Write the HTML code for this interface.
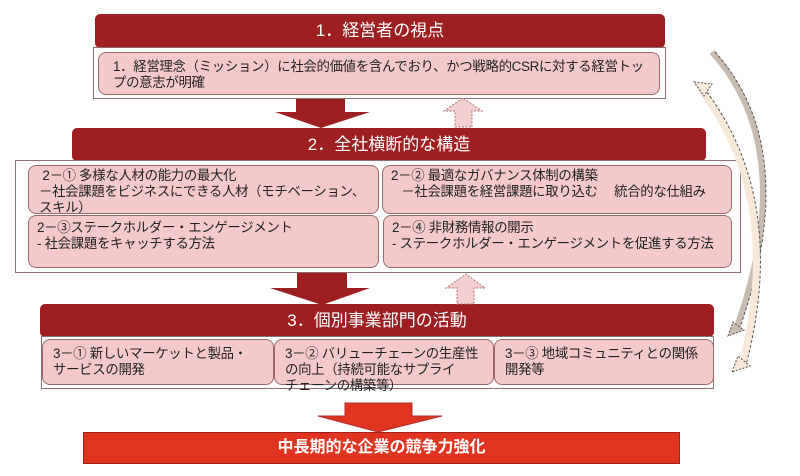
<!DOCTYPE html>
<html><head><meta charset="utf-8"><style>
body{margin:0;width:800px;height:476px;background:#fff;position:relative;overflow:hidden;font-family:"Liberation Sans","Noto Sans CJK JP",sans-serif;}
.abs{position:absolute;box-sizing:border-box;}
.hdr{background:#9e1f22;color:#fff;border-radius:5px;text-align:center;font-size:17px;}
.wb{border:1px solid #8a7070;background:#fff;}
.pk{background:#f4c9c9;border:1px solid #9a6a6a;border-radius:8px;font-size:13.4px;color:#222;line-height:16px;padding:3px 8px;letter-spacing:-0.3px;}
</style></head><body>
<div class="abs hdr" style="left:95px;top:14px;width:570px;height:34px;line-height:34px;">1．経営者の視点</div>
<div class="abs wb" style="left:93px;top:47px;width:573px;height:52px;"></div>
<div class="abs pk" style="left:98px;top:52px;width:562px;height:43px;padding:6px 10px 0 14px;">1．経営理念（ミッション）に社会的価値を含んでおり、かつ戦略的CSRに対する経営トップの意志が明確</div>

<div class="abs hdr" style="left:72px;top:128px;width:634px;height:33px;line-height:33px;">2．全社横断的な構造</div>
<div class="abs wb" style="left:15px;top:160px;width:726px;height:113px;"></div>
<div class="abs pk" style="left:28px;top:165px;width:351px;height:49px;padding-left:10px;padding-top:2px;">&nbsp;2－① 多様な人材の能力の最大化<br>－社会課題をビジネスにできる人材（モチベーション、<br>スキル）</div>
<div class="abs pk" style="left:382px;top:165px;width:350px;height:49px;padding-top:2px;">2－② 最適なガバナンス体制の構築<br>&nbsp;&nbsp;&nbsp;－社会課題を経営課題に取り込む　 統合的な仕組み</div>
<div class="abs pk" style="left:28px;top:215px;width:351px;height:53px;padding-top:4px;">2－③ステークホルダー・エンゲージメント<br>- 社会課題をキャッチする方法</div>
<div class="abs pk" style="left:383px;top:215px;width:349px;height:53px;padding-top:4px;">2－④ 非財務情報の開示<br>- ステークホルダー・エンゲージメントを促進する方法</div>

<div class="abs hdr" style="left:40px;top:304px;width:674px;height:33px;line-height:33px;">3．個別事業部門の活動</div>
<div class="abs wb" style="left:41px;top:336px;width:673px;height:53px;"></div>
<div class="abs pk" style="left:42px;top:339px;width:232px;height:46px;padding:6px 10px;">3－① 新しいマーケットと製品・<br>サービスの開発</div>
<div class="abs pk" style="left:274px;top:339px;width:220px;height:46px;padding:6px 10px;">3－② バリューチェーンの生産性<br>の向上（持続可能なサプライ<br>チェーンの構築等）</div>
<div class="abs pk" style="left:494px;top:339px;width:220px;height:46px;padding:6px 10px;">3－③ 地域コミュニティとの関係<br>開発等</div>

<div class="abs" style="left:83px;top:432px;width:597px;height:32px;background:#e03421;border:1px solid #a02020;color:#fff;font-weight:bold;font-size:16px;text-align:center;line-height:30px;">中長期的な企業の競争力強化</div>

<svg class="abs" style="left:0;top:0" width="800" height="476">
<polygon points="296,99 345,99 345,112 370,112 321,128 275,112 296,112" fill="#9e1f22"/>
<polygon points="455,127 472,127 472,111 482,111 463,98 444,111 455,111" fill="#f4d0d0" stroke="#b07070" stroke-dasharray="2,1.5"/>
<polygon points="297,273 347,273 347,288 370,288 322,305 270,288 297,288" fill="#9e1f22"/>
<polygon points="457,304 474,304 474,288 485,288 466,274 446,288 457,288" fill="#f4d0d0" stroke="#b07070" stroke-dasharray="2,1.5"/>
<polygon points="345,403 412,403 412,416 442,416 378,432 318,416 345,416" fill="#e03421" stroke="#b03030"/>
<path d="M712,52 Q800,150 736,330" fill="none" stroke="#c8bcb0" stroke-width="6"/>
<path d="M715,52 Q803,150 739,330" fill="none" stroke="#555" stroke-width="1" stroke-dasharray="3,2"/>
<path d="M700,88 Q785,200 742,365" fill="none" stroke="#f7e8d8" stroke-width="7"/>
<path d="M704,88 Q789,200 746,365" fill="none" stroke="#555" stroke-width="1" stroke-dasharray="3,2"/>
<polygon points="694,82 712,84 704,96" fill="#f7e8d8" stroke="#555" stroke-dasharray="2,1.5"/>
<polygon points="732,372 738,356 750,366" fill="#f7e8d8" stroke="#555" stroke-dasharray="2,1.5"/>
<polygon points="728,336 733,322 744,330" fill="#c8bcb0" stroke="#555" stroke-dasharray="2,1.5"/>
</svg>
</body></html>
